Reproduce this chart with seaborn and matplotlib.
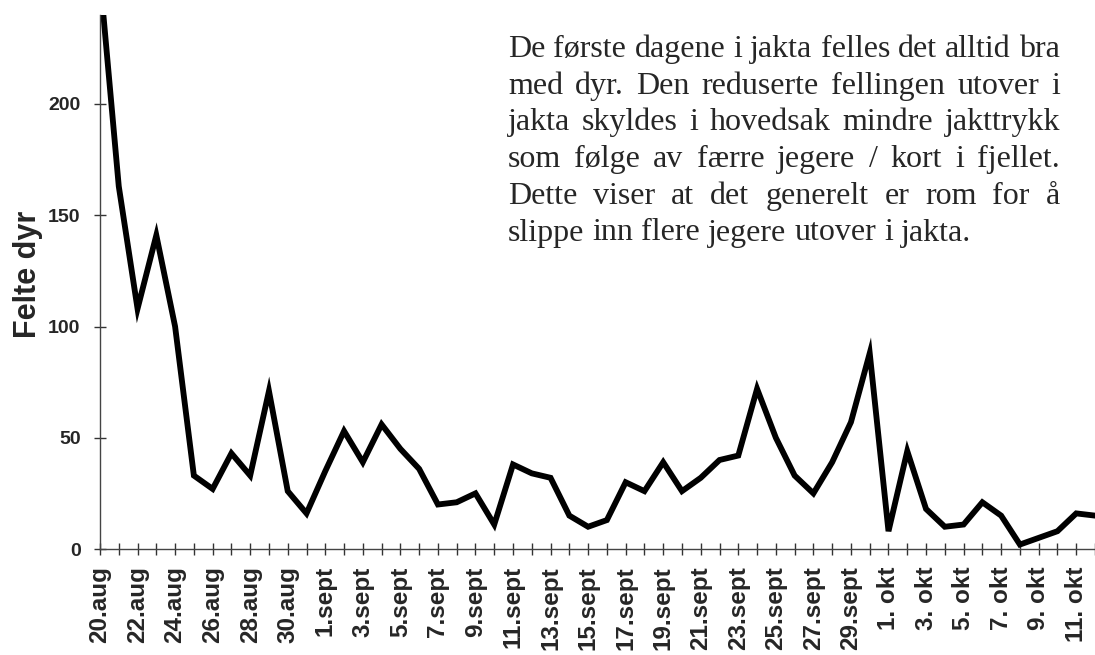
import matplotlib
matplotlib.use("Agg")
import matplotlib.pyplot as plt
import pandas as pd
import seaborn as sns

# Daily harvest, 20 aug - 12 okt
days = (
    [f"{d}.aug" for d in range(20, 32)]
    + [f"{d}.sept" for d in range(1, 31)]
    + [f"{d}. okt" for d in range(1, 13)]
)
felte = [257, 163, 108, 141, 100, 33, 27, 43, 33, 71, 26, 16,
         35, 53, 39, 56, 45, 36, 20, 21, 25, 11, 38, 34, 32, 15,
         10, 13, 30, 26, 39, 26, 32, 40, 42, 72, 50, 33, 25, 39,
         57, 88, 8, 44, 18, 10, 11, 21, 15, 2, 5, 8, 16, 15]
y_ticks = [0, 50, 100, 150, 200]
note_lines = [
    "De første dagene i jakta felles det alltid bra",
    "med dyr. Den reduserte fellingen utover i",
    "jakta skyldes i hovedsak mindre jakttrykk",
    "som følge av færre jegere / kort i fjellet.",
    "Dette viser at det generelt er rom for å",
    "slippe inn flere jegere utover i jakta.",
]

df = pd.DataFrame({"dag": range(len(days)), "label": days, "felte": felte})

sns.set_style("white")
plt.rcParams["font.family"] = ["Liberation Sans", "DejaVu Sans"]

W, H = 1095, 655
fig = plt.figure(figsize=(W / 100, H / 100), dpi=100)
ax = fig.add_axes([100 / W, 106 / H, 1 - 100 / W, (549 - 15) / H])

sns.lineplot(data=df, x="dag", y="felte", ax=ax, color="black", linewidth=4.2,
             solid_joinstyle="miter")

ax.set_xlim(0, 52.63)
ax.set_ylim(0, 240)

# labels every other day, ticks every day
ax.set_xticks(df["dag"][::2])
ax.set_xticklabels(df["label"][::2], rotation=90, fontsize=17.5, fontweight="bold")
ax.set_xticks(df["dag"], minor=True)
ax.set_yticks(y_ticks)
ax.set_yticklabels([str(v) for v in y_ticks], fontsize=14, fontweight="bold")
ax.tick_params(axis="both", which="both", direction="inout", length=9,
               width=1, color="#333333", bottom=True, left=True)
ax.tick_params(axis="x", which="both", pad=8)
ax.tick_params(axis="y", pad=9.5)

ax.set_xlabel("")
ax.set_ylabel("Felte dyr", fontsize=22, fontweight="bold")
ax.yaxis.set_label_coords(-0.057, 0.515)

for s in ["top", "right"]:
    ax.spines[s].set_visible(False)
for s in ["left", "bottom"]:
    ax.spines[s].set_color("#444444")
    ax.spines[s].set_linewidth(1)

# justified note text in Times-like font
renderer = fig.canvas.get_renderer()
x0, x1 = 508, 1060
base0, step = 57, 36.7
fkw = dict(fontsize=20, family="Liberation Serif")


def text_width(s):
    t = fig.text(0, 0, s, **fkw)
    w = t.get_window_extent(renderer).width
    t.remove()
    return w


# size the font so the first (full) line fills the block naturally
fkw["fontsize"] = 20 * (x1 - x0) / text_width(note_lines[0])

space = text_width("a a") - text_width("aa")
for i, line in enumerate(note_lines):
    words = line.split()
    widths = [text_width(w) for w in words]
    if i < len(note_lines) - 1:
        gap = (x1 - x0 - sum(widths)) / (len(words) - 1)
    else:
        gap = space
    x = x0
    y = base0 + i * step
    for w, wd in zip(words, widths):
        fig.text(x / W, 1 - y / H, w, va="baseline", ha="left", **fkw)
        x += wd + gap

fig.savefig("out.png", dpi=100)
